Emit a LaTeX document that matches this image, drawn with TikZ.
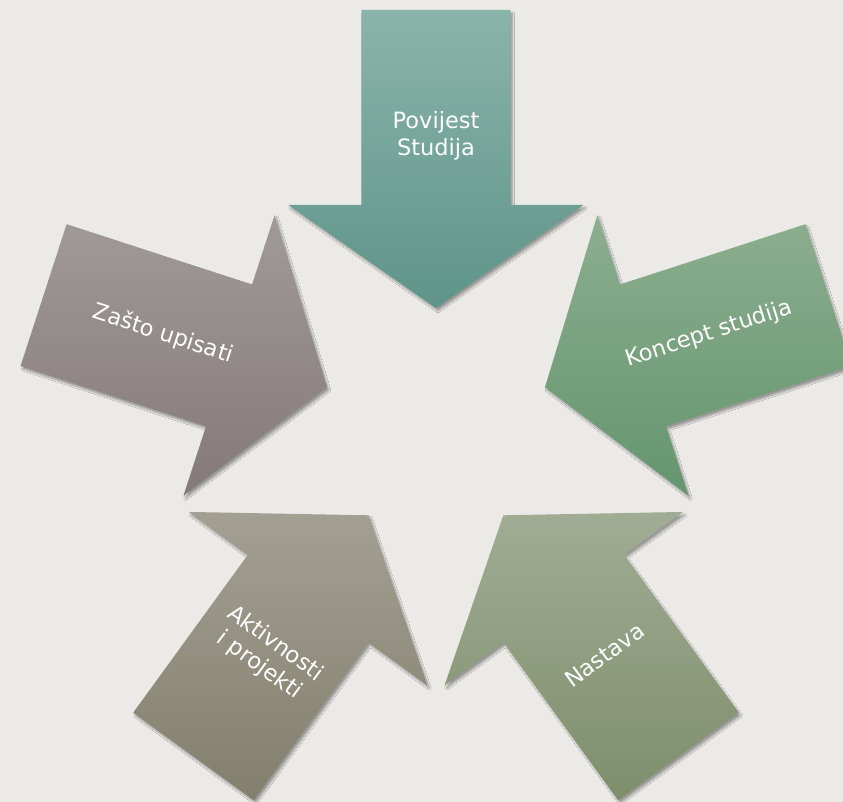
\documentclass[tikz,border=0pt]{standalone}
\usepackage{fontspec}
\setmainfont{DejaVu Sans}
\usetikzlibrary{calc,shadows.blur}
\definecolor{bgc}{HTML}{EBEAE7}
\definecolor{aTopT}{HTML}{8BB4AA}\definecolor{aTopB}{HTML}{5E9489}
\definecolor{aRigT}{HTML}{8CAE8F}\definecolor{aRigB}{HTML}{64956E}
\definecolor{aNasT}{HTML}{A1AC94}\definecolor{aNasB}{HTML}{7E8E6B}
\definecolor{aAktT}{HTML}{A3A093}\definecolor{aAktB}{HTML}{837F6D}
\definecolor{aZasT}{HTML}{A09A99}\definecolor{aZasB}{HTML}{857979}
\tikzset{
  arrowshape/.style={blur shadow={shadow xshift=2pt,shadow yshift=-3pt,shadow blur radius=1.8pt,shadow blur steps=6,shadow opacity=35}},
  lbl/.style={text=white,font=\fontsize{22.5}{27}\selectfont,align=center,inner sep=0pt}
}
\begin{document}
\begin{tikzpicture}[x=1pt,y=1pt]
\fill[bgc] (0,0) rectangle (843,802);
\useasboundingbox (0,0) rectangle (843,802);
\coordinate (C) at (436,379.4);
\foreach \r/\ct/\cb/\ta/\nm/\txt in {
   0/aTopT/aTopB/0/povijest/{Povijest\\Studija},
   -72/aRigT/aRigB/18/koncept/{Koncept studija},
   -144/aNasT/aNasB/36/nastava/{Nastava},
   144/aAktT/aAktB/-36/aktivnosti/{Aktivnosti\\i projekti},
   72/aZasT/aZasB/-18/zasto/{Zašto upisati}}{
  \path[arrowshape,top color=\ct,bottom color=\cb]
     ($(C)+(\r+90:114.6)$)
  -- ($(C)+(\r+90:217.6)+(\r:147.5)$)
  -- ($(C)+(\r+90:217.6)+(\r:74.5)$)
  -- ($(C)+(\r+90:412.6)+(\r:74.5)$)
  -- ($(C)+(\r+90:412.6)+(\r:-74.5)$)
  -- ($(C)+(\r+90:217.6)+(\r:-74.5)$)
  -- ($(C)+(\r+90:217.6)+(\r:-147.5)$)
  -- cycle;
  \node[lbl,rotate=\ta] (\nm) at ($(C)+(\r+90:287)$) {\txt};
}
\end{tikzpicture}
\end{document}
